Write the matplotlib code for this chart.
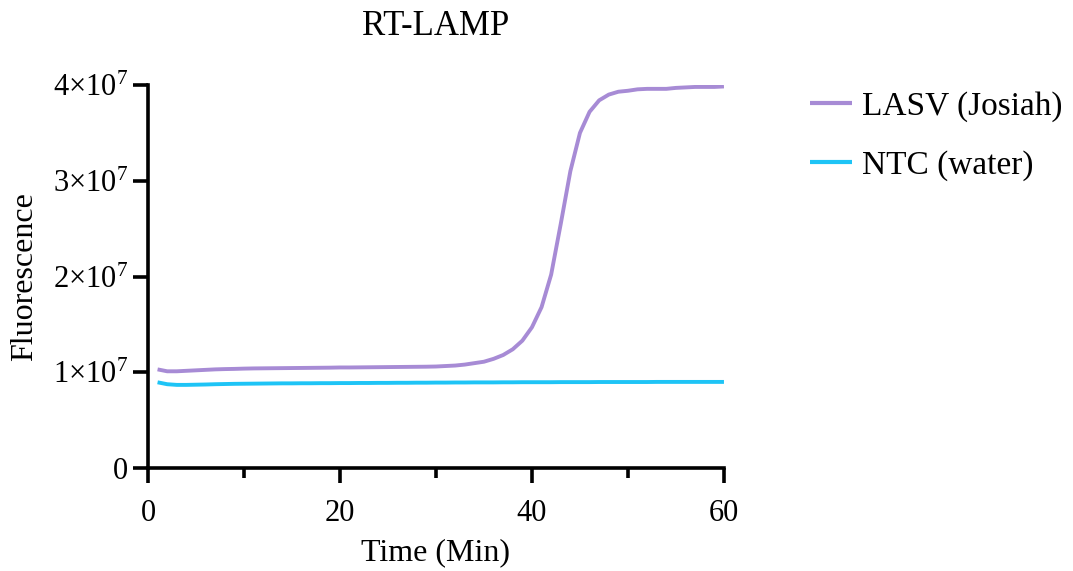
import matplotlib
matplotlib.use('Agg')
import matplotlib.pyplot as plt
from matplotlib.ticker import FixedLocator, MultipleLocator

plt.rcParams['font.family'] = ['Liberation Serif', 'DejaVu Serif']
plt.rcParams['mathtext.fontset'] = 'custom'
plt.rcParams['mathtext.rm'] = 'Liberation Serif'

### Data

time_min = list(range(1, 61))

lasv_josiah = [
    1.030, 1.010, 1.010, 1.015, 1.020, 1.025, 1.030, 1.033, 1.035, 1.038,
    1.040, 1.041, 1.042, 1.043, 1.044, 1.045, 1.046, 1.047, 1.048, 1.050,
    1.050, 1.051, 1.052, 1.053, 1.054, 1.055, 1.056, 1.057, 1.058, 1.060,
    1.065, 1.070, 1.080, 1.095, 1.110, 1.140, 1.180, 1.240, 1.330, 1.470,
    1.680, 2.020, 2.550, 3.100, 3.500, 3.720, 3.840, 3.900, 3.930, 3.940,
    3.955, 3.960, 3.960, 3.960, 3.970, 3.975, 3.980, 3.980, 3.980, 3.985,
]
ntc_water = [
    0.895, 0.875, 0.868, 0.868, 0.870, 0.872, 0.875, 0.877, 0.879, 0.880,
    0.881, 0.882, 0.883, 0.884, 0.884, 0.885, 0.885, 0.886, 0.886, 0.887,
    0.887, 0.888, 0.888, 0.889, 0.889, 0.890, 0.890, 0.891, 0.891, 0.892,
    0.892, 0.893, 0.893, 0.894, 0.894, 0.894, 0.895, 0.895, 0.896, 0.896,
    0.896, 0.896, 0.897, 0.897, 0.897, 0.897, 0.898, 0.898, 0.898, 0.898,
    0.898, 0.898, 0.899, 0.899, 0.899, 0.899, 0.899, 0.899, 0.899, 0.899,
]
scale = 1e7

y_ticks = [0, 1e7, 2e7, 3e7, 4e7]
y_tick_labels = ['0', r'$\mathregular{1{\times}10^{7}}$', r'$\mathregular{2{\times}10^{7}}$',
                 r'$\mathregular{3{\times}10^{7}}$', r'$\mathregular{4{\times}10^{7}}$']

### Figure

fig = plt.figure(figsize=(10.73, 5.71), dpi=100)
ax = fig.add_axes([0.1379, 0.1804, 0.5368, 0.6707])

ax.plot(time_min, [v * scale for v in lasv_josiah], color='#A78BD5', lw=2.8,
        label='LASV (Josiah)', solid_capstyle='butt')
ax.plot(time_min, [v * scale for v in ntc_water], color='#1EC4F6', lw=2.8,
        label='NTC (water)', solid_capstyle='butt')

ax.set_xlim(0, 60)
ax.set_ylim(0, 4e7)

ax.xaxis.set_major_locator(MultipleLocator(20))
ax.xaxis.set_minor_locator(MultipleLocator(10))
ax.yaxis.set_major_locator(FixedLocator(y_ticks))
ax.set_yticklabels(y_tick_labels)

for side in ['top', 'right']:
    ax.spines[side].set_visible(False)
for side in ['left', 'bottom']:
    ax.spines[side].set_linewidth(2.6)

ax.tick_params(which='major', length=10.5, width=2.6, labelsize=22)
ax.tick_params(which='minor', length=7, width=2.6)
ax.tick_params(axis='x', which='major', pad=12)
ax.tick_params(axis='y', which='major', pad=4)

ax.set_xlabel('Time (Min)', fontsize=23, labelpad=7)
ax.set_ylabel('Fluorescence', fontsize=23, labelpad=10)
ax.set_title('RT-LAMP', fontsize=25, pad=36)

leg = fig.legend(loc='upper left', bbox_to_anchor=(0.755, 0.841), frameon=False,
                 fontsize=24, handlelength=1.25, handletextpad=0.3,
                 labelspacing=0.85, borderpad=0, borderaxespad=0)
for line in leg.get_lines():
    line.set_linewidth(3)

fig.savefig('out.png', dpi=100)
plt.close(fig)
